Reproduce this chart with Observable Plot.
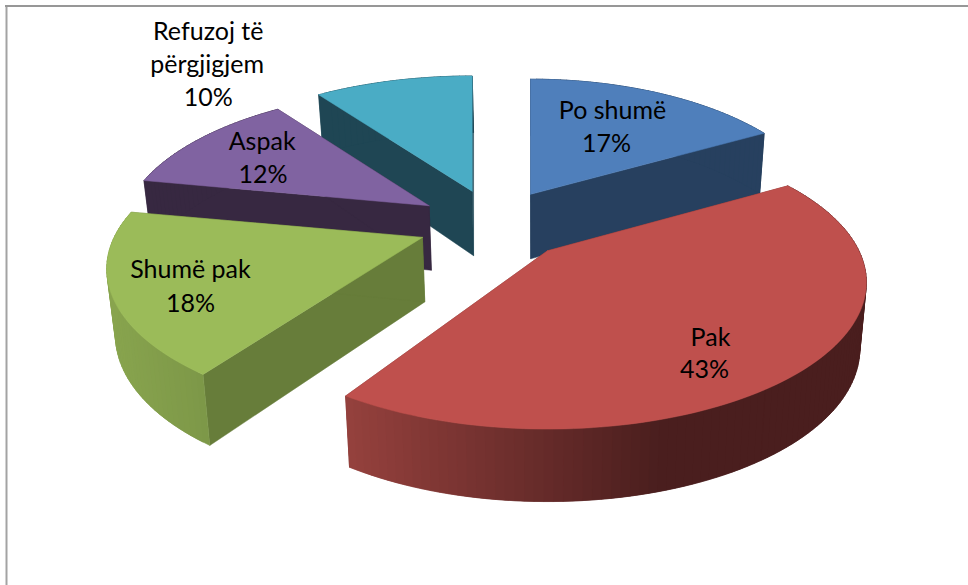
<!DOCTYPE html>
<html>
<head>
<meta charset="utf-8">
<style>html,body{margin:0;padding:0;background:#fff;overflow:hidden}svg{display:block}</style>
<script src="https://cdn.jsdelivr.net/npm/d3@7"></script>
<script src="https://cdn.jsdelivr.net/npm/@observablehq/plot@0.6"></script>
</head>
<body>
<script>
// Data
const categories = ["Po shumë", "Pak", "Shumë pak", "Aspak", "Refuzoj të përgjigjem"];
const shares = [17, 43, 18, 12, 10];
const topColors = ["#4f7fbb", "#bf504d", "#9bbb59", "#8063a1", "#4aacc5"];
const sideColors = ["#27405f", "#7a3230", "#677d3a", "#372841", "#1f4654"];
const wallFrom = ["#27405f", "#95413d", "#88a44e", "#372841", "#1f4654"];
const wallTo = ["#27405f", "#4a1e1e", "#7d9848", "#372841", "#1f4654"];
const labelLines = [
  ["Po shumë", "17%"],
  ["Pak", "43%"],
  ["Shumë pak", "18%"],
  ["Aspak", "12%"],
  ["Refuzoj të", "përgjigjem", "10%"]
];
// label line offsets from each exploded slice's apex
const labelOffsets = [
  [[82, -83], [76, -50]],
  [[163, 87], [157, 119]],
  [[-232, 33], [-232, 67]],
  [[-167, -64], [-166, -31]],
  [[-264, -159], [-265, -126], [-264, -93]]
];
const paintOrder = [4, 0, 3, 2, 1];

// 3-D projection of the pie
const view = {cx: 495, cy: 224, ex: 78.6, ey: 35, rx: 313, ry: 140, k: 0.215, depth: 64.5, depthTilt: 8, narrow: 0.02, vanish: 540};
// per-slice fine tuning of the drawing (the source's perspective is not a perfect ellipse)
const widthTrim = [0.94, 0.995, 0.985, 0.965, 0.98];
const apexShift = [-5, 0, 0, 0, 1];
const sweepTrim = [[0, 0], [-2.2, -4], [0, 0], [0, 0], [0, 0]]; // degrees
const persp = v => 1 / (1 + view.k * v);
const topPoint = (apex, a, w) => {
  const u = Math.sin(a), v = Math.cos(a), s = persp(v);
  return [apex[0] + view.rx * w * u * s, apex[1] - view.ry * v * s, v];
};
const dropPoint = ([x, y, v]) => [x - view.narrow * (x - view.vanish), y + view.depth - view.depthTilt * v, v];

const total = d3.sum(shares);
const rad = Math.PI / 180;
let acc = 0;
const slices = shares.map((value, i) => {
  const b0 = acc / total * 2 * Math.PI;
  acc += value;
  const b1 = acc / total * 2 * Math.PI;
  const mid = (b0 + b1) / 2;
  const apex = [view.cx + view.ex * Math.sin(mid) + apexShift[i], view.cy - view.ey * Math.cos(mid), 0];
  return {i, a0: b0 + sweepTrim[i][0] * rad, a1: b1 + sweepTrim[i][1] * rad, apex};
});

const polys = [];
let pid = 0;
const addPoly = (pts, color) => {
  const id = pid++;
  for (const p of [...pts, pts[0]]) polys.push({id, x: p[0], y: p[1], color});
};
for (const idx of paintOrder) {
  const s = slices[idx];
  const n = Math.max(8, Math.round((s.a1 - s.a0) * 40));
  const arc = d3.range(n + 1).map(j => topPoint(s.apex, s.a0 + (s.a1 - s.a0) * j / n, widthTrim[idx]));
  const a = s.apex;
  // radial walls first, so the outer wall covers their ends
  addPoly([a, arc[0], dropPoint(arc[0]), dropPoint(a)], sideColors[idx]);
  addPoly([a, arc[n], dropPoint(arc[n]), dropPoint(a)], sideColors[idx]);
  // outer wall, shaded along x; overlapping strips hide the seams
  const minX = d3.min(arc, p => p[0]), shadeEnd = idx === 1 ? 660 : d3.max(arc, p => p[0]);
  const shade = d3.interpolateRgb(wallFrom[idx], wallTo[idx]);
  const order = d3.range(n).sort((p, q) => arc[q][0] - arc[p][0]);
  for (const j of order) {
    const p = arc[j], q = arc[Math.min(n, j + 2)];
    const t = Math.min(1, Math.max(0, ((arc[j][0] + arc[j + 1][0]) / 2 - minX) / (shadeEnd - minX)));
    addPoly([p, q, dropPoint(q), dropPoint(p)], d3.rgb(shade(t)).formatHex());
  }
  // top face
  addPoly([a, ...arc], topColors[idx]);
}

const labelRows = labelLines.flatMap((lines, i) => lines.map((text, j) => ({
  text,
  x: slices[i].apex[0] + labelOffsets[i][j][0],
  y: slices[i].apex[1] + labelOffsets[i][j][1]
})));

const chart = Plot.plot({
  width: 968,
  height: 585,
  margin: 0,
  style: {background: "#fff"},
  x: {domain: [0, 968], range: [0, 968], axis: null},
  y: {domain: [0, 585], range: [0, 585], axis: null},
  marks: [
    Plot.ruleX([6], {y1: 5, y2: 585, stroke: "#a3a3a3", strokeWidth: 2}),
    Plot.ruleY([5.6], {x1: 5, x2: 968, stroke: "#979797", strokeWidth: 2}),
    Plot.line(polys, {x: "x", y: "y", z: "id", fill: "color", stroke: "color", strokeWidth: 0.5, curve: "linear"}),
    Plot.text(labelRows, {x: "x", y: "y", text: "text", fontSize: 25, fontFamily: "Lato", fill: "#000", lineAnchor: "middle"})
  ]
});
document.body.appendChild(chart);
</script>
</body>
</html>
